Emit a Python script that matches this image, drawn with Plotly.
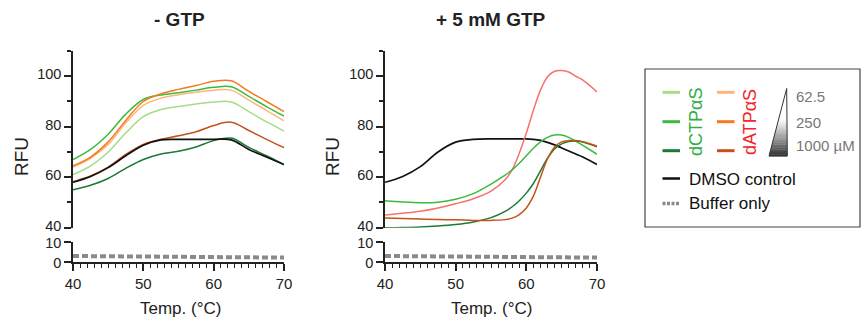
import plotly.graph_objects as go

# ---------------- data ----------------
T_left = [40, 42.5, 45, 47.5, 50, 52.5, 55, 57.5, 60, 62.5, 65, 67.5, 70]
left_dCTP_62 = [61, 64.5, 70, 77.5, 84, 86.8, 88, 89, 89.8, 89.8, 86, 82, 78.3]
left_dCTP_250 = [67, 71, 77, 85, 90.8, 92.6, 93.5, 94.5, 95.6, 95.8, 92, 88, 84.2]
left_dCTP_1000 = [55, 56.8, 59.5, 63.5, 67, 69.2, 70.3, 72, 74.5, 75.5, 71.8, 68.5, 65]
left_dATP_62 = [64, 67.5, 73, 81.5, 88.5, 91.3, 92.7, 93.7, 94.5, 94.5, 90.5, 86.5, 82.3]
left_dATP_250 = [64.5, 68, 74, 82.5, 90, 93, 94.8, 96.3, 98, 98.2, 94, 90, 86]
left_dATP_1000 = [58.2, 60.5, 64, 69, 73, 75, 76.4, 78, 80.5, 81.8, 78.5, 75, 71.7]
left_DMSO = [58, 60.3, 63.8, 68.5, 72.7, 74.8, 75, 75, 75, 74.8, 71, 68, 65]

T_right = [40, 42.5, 45, 47.5, 50, 52.5, 55, 57, 58, 59, 60, 61, 62, 63, 64, 65, 66, 67, 68, 70]
right_DMSO = [58, 60.3, 64.2, 70, 73.9, 75, 75.2, 75.2, 75.2, 75.2, 75.2, 75, 74.6, 73.8, 72.8, 71.6, 70.4, 69.2, 68, 65]
right_dATP_250 = [45, 45.7, 46.5, 47.8, 49.5, 51.5, 54.5, 59, 63, 69.5, 77.5, 86.5, 94.5, 99.8, 102, 102.3, 101.7, 100, 98.5, 93.8]
right_dCTP_250 = [50.7, 50.2, 49.9, 50.1, 51.3, 53.5, 57.3, 60.8, 62.9, 65.5, 68.5, 71.5, 74, 75.8, 76.7, 76.7, 75.8, 74.3, 72.6, 69.1]
right_dCTP_1000 = [40, 40.1, 40.3, 40.7, 41.3, 42.3, 44, 46.5, 48.3, 50.7, 53.7, 57.5, 62.5, 67.5, 71.2, 73.2, 74.1, 74.3, 73.9, 72]
right_dATP_1000 = [43.8, 43.6, 43.4, 43.2, 43.1, 42.9, 42.9, 43.2, 43.8, 45.2, 47.8, 52.5, 60, 67.3, 72, 74, 74.5, 74.5, 74.1, 72.3]

T_buffer = [40, 45, 50, 55, 60, 65, 70]
buffer_left = [3.0, 2.9, 2.75, 2.6, 2.45, 2.3, 2.2]
buffer_right = [3.0, 2.9, 2.75, 2.6, 2.45, 2.3, 2.2]

y_ticks_top = [40, 60, 80, 100]
y_minor_top = [50, 70, 90, 110]
y_ticks_bottom = [0, 10]
x_ticks = [40, 50, 60, 70]
panel_titles = ["- GTP", "+ 5 mM GTP"]
conc_labels = ["62.5", "250", "1000 µM"]

# ---------------- styles ----------------
C_LG = "#a6dc86"
C_MG = "#3dba3d"
C_DG = "#1b7a33"
C_LO = "#fdb77a"
C_MO = "#f57a1e"
C_DO = "#c4521a"
C_SAL = "#f8716c"
C_BLK = "#111111"
C_BUF = "#8a8a8a"
AX = "#222222"
FONT = "Liberation Sans, Arial, sans-serif"

W, H = 861, 326
def px(x):
    return x / W
def py(y):
    return (H - y) / H

fig = go.Figure()

def add_line(x, y, color, xa, ya, width=1.5, dash=None):
    fig.add_trace(go.Scatter(
        x=x, y=y, mode="lines", xaxis=xa, yaxis=ya,
        line=dict(color=color, width=width, shape="spline", smoothing=1.0, dash=dash),
        showlegend=False, hoverinfo="skip"))

# left panel
add_line(T_left, left_dCTP_62, C_LG, "x", "y")
add_line(T_left, left_dATP_62, C_LO, "x", "y")
add_line(T_left, left_dCTP_250, C_MG, "x", "y")
add_line(T_left, left_dATP_250, C_MO, "x", "y")
add_line(T_left, left_dATP_1000, C_DO, "x", "y")
add_line(T_left, left_dCTP_1000, C_DG, "x", "y")
add_line(T_left, left_DMSO, C_BLK, "x", "y", width=1.7)
# right panel
add_line(T_right, right_DMSO, C_BLK, "x2", "y2", width=1.7)
add_line(T_right, right_dATP_250, C_SAL, "x2", "y2")
add_line(T_right, right_dCTP_250, C_MG, "x2", "y2")
add_line(T_right, right_dCTP_1000, C_DG, "x2", "y2")
add_line(T_right, right_dATP_1000, C_DO, "x2", "y2")
# buffer
for xa, ya, yb in [("x3", "y3", buffer_left), ("x4", "y4", buffer_right)]:
    fig.add_trace(go.Scatter(
        x=T_buffer, y=yb, mode="lines", xaxis=xa, yaxis=ya,
        line=dict(color=C_BUF, width=4, dash="6px,3px"),
        showlegend=False, hoverinfo="skip"))

dom_L = [px(73), px(284)]
dom_R = [px(385), px(597)]
dom_top = [py(227.7), py(51)]
dom_bot = [py(262), py(242)]

tickfont = dict(family=FONT, size=15, color=AX)
tickfont_y = dict(family=FONT, size=14.5, color=AX)

def xa_top(dom, anchor):
    return dict(domain=dom, anchor=anchor, range=[40, 70], showline=False,
                showticklabels=False, ticks="", showgrid=False, zeroline=False)

def ya_top(dom, anchor):
    return dict(domain=dom, anchor=anchor, range=[40, 110], showline=True, linecolor=AX,
                linewidth=1.5, ticks="outside", ticklen=7, tickwidth=1.5, tickcolor=AX,
                tickvals=y_ticks_top, showgrid=False, zeroline=False, tickfont=tickfont_y,
                ticklabelshift=-2,
                minor=dict(tickvals=y_minor_top, ticks="outside", ticklen=4,
                           tickwidth=1.5, tickcolor=AX, showgrid=False),
                automargin=False)

def xa_bot(dom, anchor):
    return dict(domain=dom, anchor=anchor, range=[40, 70], showline=True, linecolor=AX,
                linewidth=1.5, ticks="outside", ticklen=7, tickwidth=1.5, tickcolor=AX,
                tickvals=x_ticks, showgrid=False, zeroline=False, tickfont=tickfont,
                minor=dict(dtick=1, tick0=40, ticks="outside", ticklen=4,
                           tickwidth=1.2, tickcolor=AX, showgrid=False),
                automargin=False)

def ya_bot(dom, anchor):
    return dict(domain=dom, anchor=anchor, range=[0, 10], showline=True, linecolor=AX,
                linewidth=1.5, ticks="outside", ticklen=7, tickwidth=1.5, tickcolor=AX,
                tickvals=y_ticks_bottom, showgrid=False, zeroline=False, tickfont=tickfont_y,
                ticklabelshift=1, automargin=False)

annotations = []
def text(x, y, s, size=15, color=AX, bold=False, angle=0, xanchor="center"):
    annotations.append(dict(
        x=px(x), y=py(y), xref="paper", yref="paper", text=("<b>%s</b>" % s) if bold else s,
        showarrow=False, textangle=angle, xanchor=xanchor, yanchor="middle",
        font=dict(family=FONT, size=size, color=color)))

# titles & axis titles
text(179, 19, panel_titles[0], size=19, bold=True)
text(491, 19, panel_titles[1], size=19, bold=True)
text(21, 157, "RFU", size=19, angle=-90)
text(332, 157, "RFU", size=19, angle=-90)
text(180, 308, "Temp. (°C)", size=17)
text(491, 308, "Temp. (°C)", size=17)

# legend (decoration)
shapes = []
shapes.append(dict(type="rect", xref="paper", yref="paper", x0=px(645), x1=px(860),
                   y0=py(227), y1=py(69), line=dict(color="#444444", width=1.2),
                   fillcolor="rgba(0,0,0,0)"))
rows = [92.3, 121.7, 150.7]
for yy, c1, c2 in zip(rows, [C_LG, C_MG, C_DG], [C_LO, C_MO, C_DO]):
    shapes.append(dict(type="line", xref="paper", yref="paper", x0=px(662.5), x1=px(680),
                       y0=py(yy), y1=py(yy), line=dict(color=c1, width=3)))
    shapes.append(dict(type="line", xref="paper", yref="paper", x0=px(717), x1=px(734.5),
                       y0=py(yy), y1=py(yy), line=dict(color=c2, width=3)))
text(696, 122, "dCTPαS", size=18, color="#2fae47", angle=-90)
text(750, 122, "dATPαS", size=18, color="#f2262c", angle=-90)

# wedge with gradient
ax_, ay_ = 786.7, 88.5
bl_x, br_x, by_ = 769.0, 787.3, 156.0
N = 40
for i in range(N):
    y0 = ay_ + (by_ - ay_) * i / N
    y1 = ay_ + (by_ - ay_) * (i + 1) / N
    def lx(y):
        return ax_ + (bl_x - ax_) * (y - ay_) / (by_ - ay_)
    def rx(y):
        return ax_ + (br_x - ax_) * (y - ay_) / (by_ - ay_)
    t = (i + 0.5) / N
    if t < 0.45:
        g = 255
    else:
        g = int(255 - (255 - 45) * ((t - 0.45) / 0.55) ** 1.1)
    col = "rgb(%d,%d,%d)" % (g, g, g)
    path = "M %f %f L %f %f L %f %f L %f %f Z" % (
        px(lx(y0)), py(y0), px(rx(y0)), py(y0), px(rx(y1)), py(y1 + 0.3), px(lx(y1)), py(y1 + 0.3))
    shapes.append(dict(type="path", xref="paper", yref="paper", path=path,
                       fillcolor=col, line=dict(width=0)))
shapes.append(dict(type="path", xref="paper", yref="paper",
                   path="M %f %f L %f %f L %f %f Z" % (px(ax_), py(ay_), px(br_x), py(by_), px(bl_x), py(by_)),
                   fillcolor="rgba(0,0,0,0)", line=dict(color="#333333", width=1)))
text(794, 97, conc_labels[0], size=15, color="#777777", xanchor="left")
text(794, 122.5, conc_labels[1], size=15, color="#777777", xanchor="left")
text(794, 145.5, conc_labels[2], size=15, color="#777777", xanchor="left")

shapes.append(dict(type="line", xref="paper", yref="paper", x0=px(662.5), x1=px(680),
                   y0=py(178.5), y1=py(178.5), line=dict(color=C_BLK, width=2.5)))
shapes.append(dict(type="line", xref="paper", yref="paper", x0=px(662.5), x1=px(680),
                   y0=py(203.5), y1=py(203.5), line=dict(color=C_BUF, width=3.5, dash="3px,1.5px")))
text(687, 180, "DMSO control", size=17, color="#111111", xanchor="left")
text(687, 203, "Buffer only", size=17, color="#111111", xanchor="left")

fig.update_layout(
    width=W, height=H, margin=dict(l=0, r=0, t=0, b=0),
    paper_bgcolor="white", plot_bgcolor="white", showlegend=False,
    xaxis=xa_top(dom_L, "y"), yaxis=ya_top(dom_top, "x"),
    xaxis2=xa_top(dom_R, "y2"), yaxis2=ya_top(dom_top, "x2"),
    xaxis3=xa_bot(dom_L, "y3"), yaxis3=ya_bot(dom_bot, "x3"),
    xaxis4=xa_bot(dom_R, "y4"), yaxis4=ya_bot(dom_bot, "x4"),
    annotations=annotations, shapes=shapes,
)

fig.write_html("out.html")
